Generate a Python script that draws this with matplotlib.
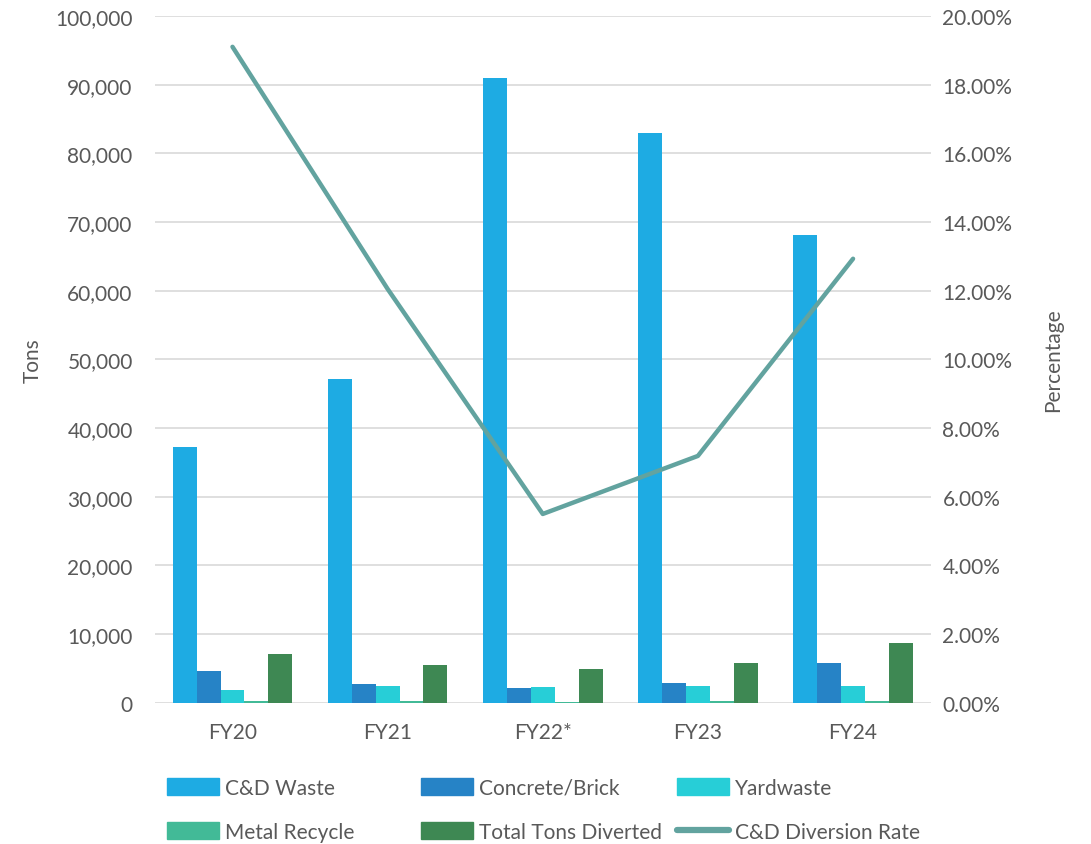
import numpy as np
import matplotlib
matplotlib.use('Agg')
import matplotlib.pyplot as plt
from matplotlib.ticker import FuncFormatter, MultipleLocator
from matplotlib.patches import Patch
from matplotlib.lines import Line2D

plt.rcParams['font.family'] = ['Lato', 'DejaVu Sans']

years = ['FY20', 'FY21', 'FY22*', 'FY23', 'FY24']
cd_waste = [37200, 47100, 90900, 83000, 68100]
concrete = [4650, 2700, 2200, 2950, 5800]
yardwaste = [1900, 2400, 2300, 2500, 2400]
metal = [250, 300, 200, 250, 250]
total_diverted = [7050, 5550, 4900, 5850, 8750]
diversion_rate = [19.10, 12.05, 5.50, 7.19, 12.93]

series_names = ['C&D Waste', 'Concrete/Brick', 'Yardwaste', 'Metal Recycle', 'Total Tons Diverted']
series_vals = [cd_waste, concrete, yardwaste, metal, total_diverted]
colors = ['#1EABE3', '#2683C6', '#27CED7', '#42BA97', '#3E8853']
line_color = '#62A39F'
text_color = '#595959'
fs = 15

fig = plt.figure(figsize=(10.91, 8.45), dpi=100)
ax = fig.add_axes([0.142, 0.167, 0.711, 0.813])
ax2 = ax.twinx()

x = np.arange(len(years))
w = 0.154
for i, (name, vals) in enumerate(zip(series_names, series_vals)):
    ax.bar(x + (i - 2) * w, vals, width=w, color=colors[i], label=name, zorder=3)

ax2.plot(x, diversion_rate, color=line_color, lw=3.2, solid_capstyle='round', zorder=4)

ax.set_xlim(-0.5, len(years) - 0.5)
ax.set_ylim(0, 100000)
ax2.set_ylim(0, 20)
ax.yaxis.set_major_locator(MultipleLocator(10000))
ax2.yaxis.set_major_locator(MultipleLocator(2))
ax.yaxis.set_major_formatter(FuncFormatter(lambda v, p: f'{int(v):,}'))
ax2.yaxis.set_major_formatter(FuncFormatter(lambda v, p: f'{v:.2f}%'))
ax.set_xticks(x)
ax.set_xticklabels(years)

ax.grid(axis='y', color='#D9D9D9', lw=1.2, zorder=0)
for a in (ax, ax2):
    for s in a.spines.values():
        s.set_visible(False)
    a.tick_params(length=0, labelsize=fs, colors=text_color)
ax.tick_params(axis='y', pad=16)
ax2.tick_params(axis='y', pad=8.5)
ax.tick_params(axis='x', pad=14)

ax.set_ylabel('Tons', fontsize=fs, color=text_color, labelpad=9)
ax2.set_ylabel('Percentage', fontsize=fs, color=text_color, labelpad=22)

# legend laid out in three fixed columns like the original
handles = [Patch(color=c) for c in colors] + [Line2D([], [], color=line_color, lw=4.5, solid_capstyle='round')]
labels = series_names + ['C&D Diversion Rate']
cols = [(0, 3), (1, 4), (2, 5)]
xs = [0.145, 0.378, 0.613]
for (a, b), xp in zip(cols, xs):
    fig.legend([handles[a], handles[b]], [labels[a], labels[b]], loc='upper left',
               bbox_to_anchor=(xp, 0.088), frameon=False, fontsize=fs,
               handlelength=2.5, handleheight=0.85, handletextpad=0.3,
               labelspacing=1.15, labelcolor=text_color, borderaxespad=0)

fig.savefig('out.png', dpi=100)
